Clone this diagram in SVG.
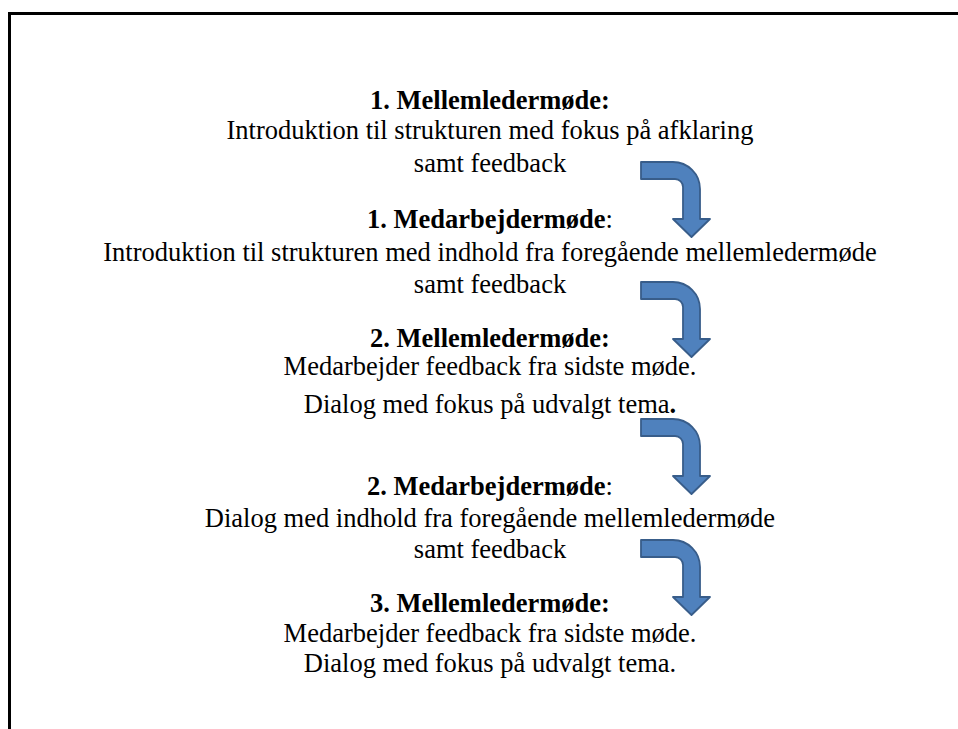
<svg xmlns="http://www.w3.org/2000/svg" width="958" height="729" viewBox="0 0 958 729">
<style>
text{font-family:"Liberation Serif","Times New Roman",serif;font-size:26.5px;fill:#000;text-anchor:middle}
.b{font-weight:bold}
.arrow{fill:#4F81BD;stroke:#385D8A;stroke-width:1.8;stroke-linejoin:round}
</style>
<defs>
<path id="bent" class="arrow" d="M1,1 H33 A27,27 0 0 1 60,28 V58 H70 L51.5,76 L33,58 H43 V26 A8,8 0 0 0 35,18 H1 Z"/>
</defs>
<rect width="958" height="729" fill="#fff"/>
<g id="frame" stroke="#000" stroke-width="3" fill="none">
<line x1="8" y1="13.5" x2="958" y2="13.5"/>
<line x1="9.5" y1="12" x2="9.5" y2="729"/>
</g>
<g id="node1">
<text x="490" y="109" class="b">1. Mellemledermøde:</text>
<text x="490" y="139">Introduktion til strukturen med fokus på afklaring</text>
<text x="490" y="172">samt feedback</text>
</g>
<g id="node2">
<text x="490" y="228"><tspan class="b">1. Medarbejdermøde</tspan>:</text>
<text x="490" y="261">Introduktion til strukturen med indhold fra foregående mellemledermøde</text>
<text x="490" y="293">samt feedback</text>
</g>
<g id="node3">
<text x="490" y="347" class="b">2. Mellemledermøde:</text>
<text x="490" y="375">Medarbejder feedback fra sidste møde.</text>
<text x="490" y="413">Dialog med fokus på udvalgt tema<tspan class="b">.</tspan></text>
</g>
<g id="node4">
<text x="490" y="495"><tspan class="b">2. Medarbejdermøde</tspan>:</text>
<text x="490" y="527">Dialog med indhold fra foregående mellemledermøde</text>
<text x="490" y="558">samt feedback</text>
</g>
<g id="node5">
<text x="490" y="612" class="b">3. Mellemledermøde:</text>
<text x="490" y="642">Medarbejder feedback fra sidste møde.</text>
<text x="490" y="672">Dialog med fokus på udvalgt tema.</text>
</g>
<g id="connectors">
<use href="#bent" x="640" y="161"/>
<use href="#bent" x="640" y="281"/>
<use href="#bent" x="640" y="418"/>
<use href="#bent" x="640" y="539"/>
</g>
</svg>
